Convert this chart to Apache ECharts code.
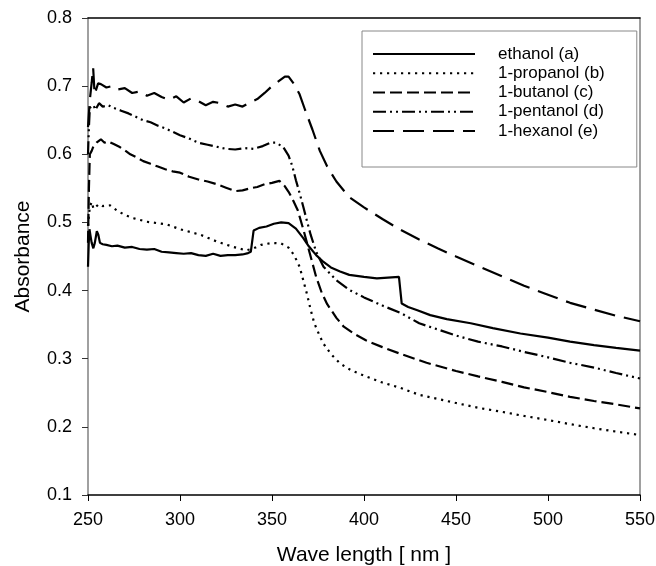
<!DOCTYPE html>
<html>
<head>
<meta charset="utf-8">
<script src="https://cdn.jsdelivr.net/npm/echarts@6/dist/echarts.min.js"></script>
<style>
  html, body { margin: 0; padding: 0; background: #fff; }
  #chart { width: 656px; height: 566px; }
</style>
</head>
<body>
<div id="chart"></div>
<script>
// ethanol (a)
var wlA = [250, 250.4, 250.8, 251.5, 252, 252.9, 253.7, 254.8, 255.6, 256.5, 258, 260, 263, 266, 270, 274, 278, 282, 286, 290, 294, 298, 302, 306, 310, 314, 318, 322, 326, 330, 334, 337, 338.5, 340, 343, 347, 351, 355, 359, 363, 367, 370, 374, 378, 382, 387, 392, 400, 407, 413, 419, 420.5, 424, 429, 436, 445, 458, 470, 485, 500, 512, 525, 537, 550]
var absA = [0.435, 0.47, 0.49, 0.478, 0.47, 0.462, 0.47, 0.487, 0.482, 0.47, 0.468, 0.467, 0.465, 0.466, 0.463, 0.464, 0.461, 0.46, 0.461, 0.457, 0.456, 0.455, 0.454, 0.455, 0.452, 0.451, 0.454, 0.451, 0.452, 0.452, 0.453, 0.455, 0.457, 0.488, 0.492, 0.494, 0.498, 0.5, 0.499, 0.491, 0.477, 0.465, 0.452, 0.442, 0.434, 0.428, 0.423, 0.42, 0.418, 0.419, 0.42, 0.381, 0.376, 0.371, 0.364, 0.358, 0.352, 0.345, 0.337, 0.331, 0.325, 0.32, 0.316, 0.312]

// 1-propanol (b)
var wlB = [250, 250.5, 251, 252, 253, 254, 256, 258, 262, 266, 270, 275, 282, 293, 300, 311, 320, 329, 336, 340, 344, 350, 355, 359, 362, 365, 367, 369, 371, 373, 376, 378, 382, 387, 393, 401, 410, 420, 430, 440, 450, 462, 475, 487, 500, 512, 525, 537, 550]
var absB = [0.495, 0.51, 0.523, 0.53, 0.52, 0.522, 0.527, 0.524, 0.525, 0.517, 0.511, 0.506, 0.501, 0.497, 0.49, 0.482, 0.472, 0.464, 0.459, 0.462, 0.467, 0.47, 0.469, 0.463, 0.452, 0.435, 0.415, 0.395, 0.372, 0.352, 0.333, 0.322, 0.307, 0.293, 0.283, 0.274, 0.265, 0.257, 0.247, 0.241, 0.235, 0.228, 0.222, 0.216, 0.21, 0.204, 0.198, 0.193, 0.188]

// 1-butanol (c)
var wlC = [250, 250.5, 251, 252, 253, 255, 257, 259, 261, 264, 267, 270, 273, 276, 280, 284, 288, 292, 296, 300, 305, 310, 315, 320, 325, 330, 334, 338, 342, 346, 350, 354, 357, 359, 361, 364, 367, 370, 374, 377, 380, 385, 389, 395, 401, 410, 420, 434, 450, 462, 475, 487, 500, 512, 525, 537, 550]
var absC = [0.47, 0.55, 0.6, 0.605, 0.612, 0.618, 0.622, 0.617, 0.619, 0.615, 0.611, 0.606, 0.6, 0.596, 0.59, 0.586, 0.582, 0.578, 0.575, 0.573, 0.567, 0.563, 0.56, 0.556, 0.551, 0.546, 0.547, 0.55, 0.552, 0.556, 0.558, 0.561, 0.553, 0.545, 0.535, 0.518, 0.49, 0.46, 0.42, 0.397, 0.38, 0.36, 0.347, 0.336, 0.327, 0.317, 0.307, 0.294, 0.282, 0.274, 0.266, 0.258, 0.251, 0.244, 0.238, 0.233, 0.227]

// 1-pentanol (d)
var wlD = [250, 250.5, 251, 253, 254, 256, 258, 261, 264, 268, 272, 276, 280, 284, 288, 292, 296, 300, 305, 310, 315, 320, 325, 330, 335, 340, 345, 349, 352, 356, 359, 361, 363, 365, 367, 369, 371, 374, 378, 385, 392, 400, 410, 420, 430, 440, 450, 462, 475, 487, 500, 512, 525, 537, 550]
var absD = [0.6, 0.64, 0.668, 0.672, 0.665, 0.675, 0.67, 0.672, 0.668, 0.664, 0.66, 0.655, 0.65, 0.647, 0.642, 0.638, 0.633, 0.628, 0.623, 0.617, 0.614, 0.611, 0.608, 0.607, 0.609, 0.608, 0.612, 0.617, 0.617, 0.611, 0.598, 0.583, 0.562, 0.543, 0.523, 0.502, 0.482, 0.457, 0.435, 0.415, 0.401, 0.39, 0.378, 0.367, 0.352, 0.343, 0.334, 0.325, 0.318, 0.31, 0.302, 0.294, 0.287, 0.279, 0.271]

// 1-hexanol (e)
var wlE = [250, 251, 252, 252.8, 253.6, 255.5, 257, 260, 263, 266, 270, 274, 278, 282, 286, 290, 294, 298, 302, 306, 310, 314, 318, 322, 326, 330, 334, 338, 342, 346, 350, 354, 357, 359, 362, 365, 368, 372, 376, 380, 385, 392, 400, 410, 420, 430, 440, 450, 462, 475, 487, 500, 512, 525, 537, 550]
var absE = [0.64, 0.68, 0.705, 0.727, 0.688, 0.704, 0.703, 0.698, 0.7, 0.695, 0.697, 0.69, 0.692, 0.686, 0.69, 0.684, 0.68, 0.685, 0.676, 0.682, 0.678, 0.672, 0.677, 0.675, 0.67, 0.673, 0.67, 0.676, 0.681, 0.69, 0.7, 0.708, 0.714, 0.714, 0.703, 0.688, 0.665, 0.636, 0.605, 0.582, 0.56, 0.537, 0.522, 0.505, 0.489, 0.475, 0.462, 0.45, 0.436, 0.421, 0.407, 0.394, 0.382, 0.372, 0.363, 0.355]

var xTicks = [250, 300, 350, 400, 450, 500, 550]
var yTicks = [0.1, 0.2, 0.3, 0.4, 0.5, 0.6, 0.7, 0.8]

var font = 'Liberation Sans, Arial, sans-serif'

function pairs (xs, ys) {
  return xs.map(function (x, i) { return [x, ys[i]] })
}

var lines = [
  { name: 'ethanol (a)', data: pairs(wlA, absA), type: 'solid' },
  { name: '1-propanol (b)', data: pairs(wlB, absB), type: [2.2, 4.8] },
  { name: '1-butanol (c)', data: pairs(wlC, absC), type: [12, 5] },
  { name: '1-pentanol (d)', data: pairs(wlD, absD), type: [13, 4, 2, 4, 2, 4] },
  { name: '1-hexanol (e)', data: pairs(wlE, absE), type: [21, 9] }
]

var chart = echarts.init(document.getElementById('chart'))

var axisLabel = { fontSize: 18, color: '#000', fontFamily: font }

chart.setOption({
  backgroundColor: '#fff',
  animation: false,
  grid: { left: 88, right: 16, top: 18, bottom: 71, containLabel: false, outerBoundsMode: 'none' },
  legend: {
    orient: 'vertical',
    left: 362,
    top: 31,
    padding: [13.5, 32, 26.5, 10],
    itemWidth: 102,
    itemHeight: 14,
    itemGap: 0,
    borderColor: '#888',
    borderWidth: 1,
    backgroundColor: '#fff',
    itemStyle: { opacity: 0, color: 'transparent', borderColor: 'transparent' },
    textStyle: { fontSize: 17, lineHeight: 19.2, color: '#000', fontFamily: font, padding: [0, 0, 0, 18] },
    data: lines.map(function (l) { return l.name })
  },
  xAxis: [{
    type: 'value',
    min: xTicks[0],
    max: xTicks[xTicks.length - 1],
    interval: 50,
    axisLine: { show: true, onZero: false, lineStyle: { color: '#000', width: 1.5 } },
    axisTick: { show: true, length: 6, lineStyle: { color: '#000' } },
    axisLabel: Object.assign({ margin: 16 }, axisLabel),
    splitLine: { show: false },
    name: 'Wave length [ nm ]',
    nameLocation: 'middle',
    nameGap: 50,
    nameTextStyle: { fontSize: 21, color: '#000', fontFamily: font }
  }, {
    type: 'value',
    position: 'top',
    min: xTicks[0],
    max: xTicks[xTicks.length - 1],
    axisLine: { show: true, onZero: false, lineStyle: { color: '#000', width: 1.5 } },
    axisTick: { show: false },
    axisLabel: { show: false },
    splitLine: { show: false }
  }],
  yAxis: [{
    type: 'value',
    min: yTicks[0],
    max: yTicks[yTicks.length - 1],
    interval: 0.1,
    axisLine: { show: true, onZero: false, lineStyle: { color: '#808080', width: 1.5 } },
    axisTick: { show: true, length: 6, lineStyle: { color: '#333' } },
    axisLabel: Object.assign({ margin: 16, formatter: function (v) { return v.toFixed(1) } }, axisLabel),
    splitLine: { show: false },
    name: 'Absorbance',
    nameLocation: 'middle',
    nameGap: 54,
    nameTextStyle: { fontSize: 21, color: '#000', fontFamily: font }
  }, {
    type: 'value',
    position: 'right',
    min: yTicks[0],
    max: yTicks[yTicks.length - 1],
    axisLine: { show: true, onZero: false, lineStyle: { color: '#808080', width: 1.5 } },
    axisTick: { show: false },
    axisLabel: { show: false },
    splitLine: { show: false }
  }],
  series: lines.map(function (l) {
    return {
      name: l.name,
      type: 'line',
      data: l.data,
      symbol: 'none',
      smooth: false,
      lineStyle: { color: '#000', width: 2.2, type: l.type, cap: 'butt' },
      itemStyle: { color: '#000' }
    }
  })
})
</script>
</body>
</html>
